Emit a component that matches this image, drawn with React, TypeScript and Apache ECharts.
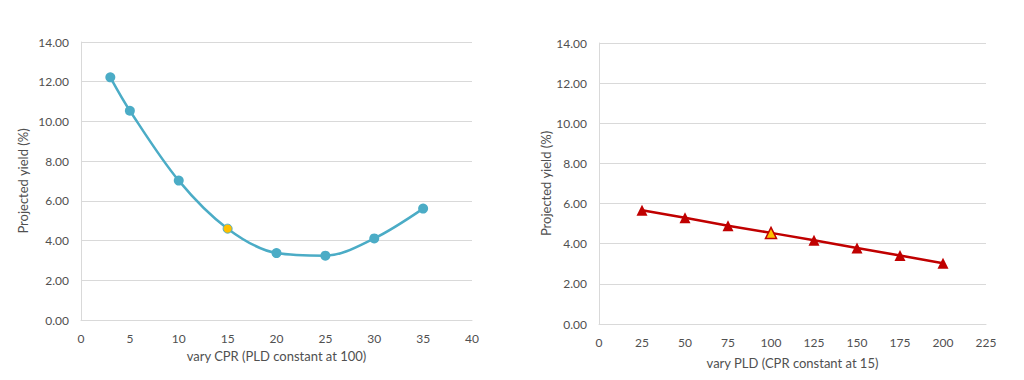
import React, { useEffect, useRef } from "react";
import * as echarts from "echarts";

const cprValues = [3, 5, 10, 15, 20, 25, 30, 35];
const cprYield = [12.22, 10.54, 7.02, 4.6, 3.37, 3.24, 4.11, 5.61];
const cprHighlight = 15;

const pldValues = [25, 50, 75, 100, 125, 150, 175, 200];
const pldYield = [5.67, 5.29, 4.9, 4.54, 4.17, 3.79, 3.41, 3.03];
const pldHighlight = 100;

const leftXTitle = "vary CPR (PLD constant at 100)";
const rightXTitle = "vary PLD (CPR constant at 15)";
const yTitle = "Projected yield (%)";

const FONT = "Lato, 'Open Sans', sans-serif";
const TEXT = "#505050";
const GRID = "#d9d9d9";

export default function App() {
  const ref = useRef<HTMLDivElement>(null);
  useEffect(() => {
    if (!ref.current) return;
    const chart = echarts.init(ref.current, undefined, { renderer: "svg" });
    const axisLabel = { color: TEXT, fontSize: 12, fontFamily: FONT };
    const yAxisCommon = {
      type: "value" as const,
      min: 0,
      max: 14,
      interval: 2,
      name: yTitle,
      nameLocation: "middle" as const,
      nameRotate: 90,
      nameTextStyle: { color: TEXT, fontSize: 13, fontFamily: FONT },
      axisLine: { show: true, lineStyle: { color: GRID, width: 1 } },
      axisTick: { show: false },
      splitLine: { lineStyle: { color: GRID, width: 1 } },
      axisLabel: { ...axisLabel, margin: 12, formatter: (v: number) => v.toFixed(2) },
    };
    const xAxisCommon = {
      type: "value" as const,
      nameLocation: "middle" as const,
      nameTextStyle: { color: TEXT, fontSize: 13, fontFamily: FONT },
      axisLine: { show: true, lineStyle: { color: GRID, width: 1 } },
      axisTick: { show: false },
      splitLine: { show: false },
      axisLabel: { ...axisLabel, margin: 12 },
    };
    chart.setOption({
      animation: false,
      backgroundColor: "#ffffff",
      grid: [
        { left: 81, top: 42, right: 552, bottom: 60 },
        { left: 599, top: 43, right: 38, bottom: 56 },
      ],
      xAxis: [
        { ...xAxisCommon, gridIndex: 0, min: 0, max: 40, interval: 5, name: leftXTitle, nameGap: 29 },
        { ...xAxisCommon, gridIndex: 1, min: 0, max: 225, interval: 25, name: rightXTitle, nameGap: 32 },
      ],
      yAxis: [
        { ...yAxisCommon, gridIndex: 0, nameGap: 52 },
        { ...yAxisCommon, gridIndex: 1, nameGap: 47 },
      ],
      series: [
        {
          type: "line",
          xAxisIndex: 0,
          yAxisIndex: 0,
          smooth: 0.33,
          smoothMonotone: "none",
          symbol: "circle",
          symbolSize: 10,
          lineStyle: { color: "#4bacc6", width: 2.5 },
          itemStyle: { color: "#4bacc6" },
          data: cprValues.map((x, i) =>
            x === cprHighlight
              ? { value: [x, cprYield[i]], symbolSize: 9, itemStyle: { color: "#ffc000", borderColor: "#4bacc6", borderWidth: 1 } }
              : { value: [x, cprYield[i]] }
          ),
        },
        {
          type: "line",
          xAxisIndex: 1,
          yAxisIndex: 1,
          symbol: "triangle",
          symbolSize: 11,
          lineStyle: { color: "#c00000", width: 2.5 },
          itemStyle: { color: "#c00000" },
          data: pldValues.map((x, i) =>
            x === pldHighlight
              ? { value: [x, pldYield[i]], itemStyle: { color: "#ffc000", borderColor: "#c00000", borderWidth: 1.5 } }
              : { value: [x, pldYield[i]] }
          ),
        },
      ],
    });
    return () => chart.dispose();
  }, []);
  return (
    <div
      ref={ref}
      style={{ position: "absolute", left: 0, top: 0, width: 1024, height: 380, background: "#fff" }}
    />
  );
}
